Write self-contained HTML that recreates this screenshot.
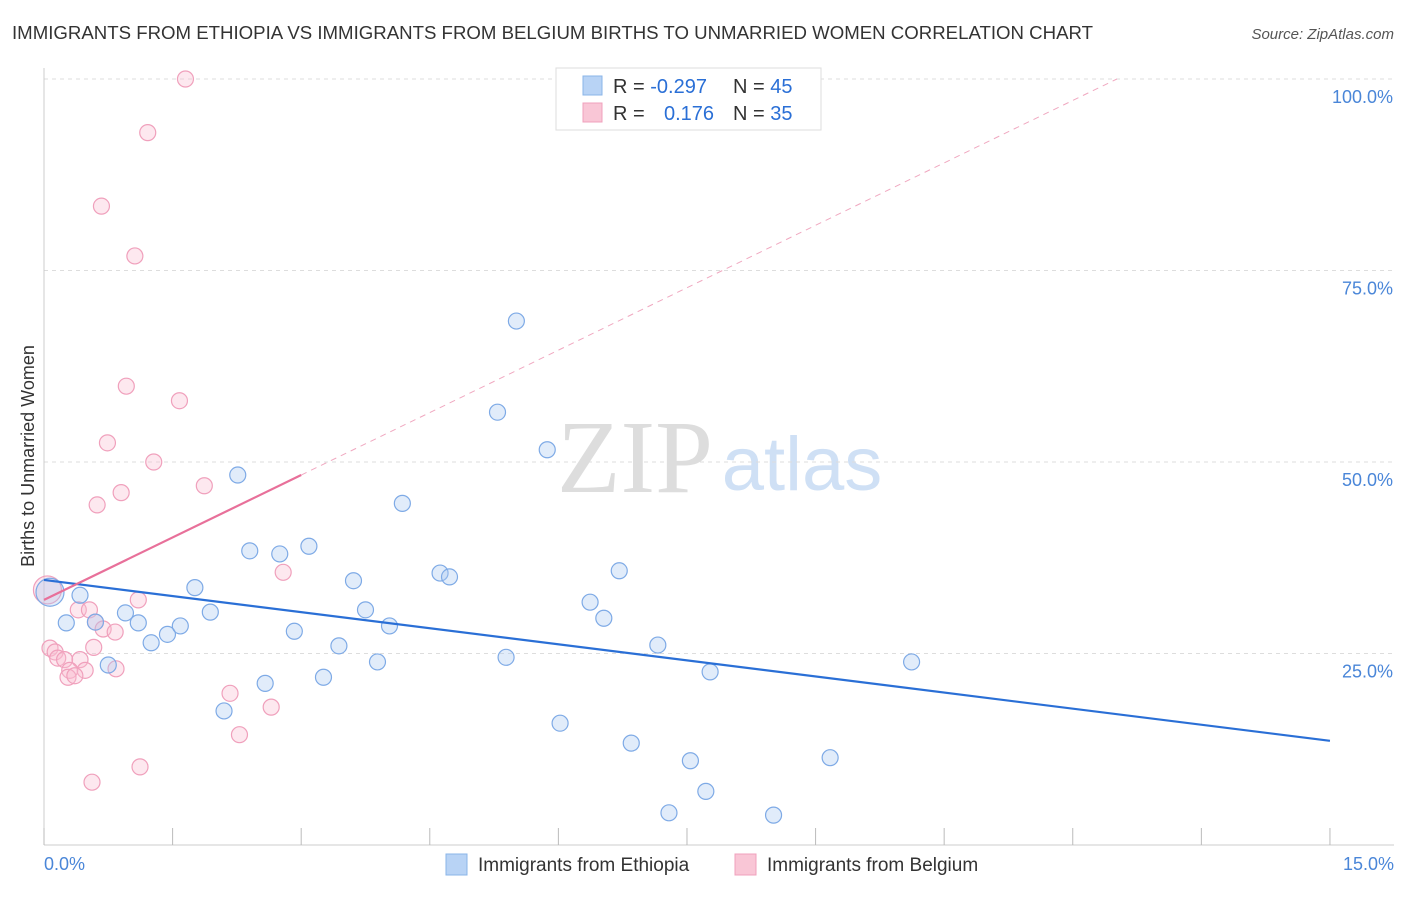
<!DOCTYPE html>
<html><head><meta charset="utf-8"><style>
body{margin:0;background:#fff;font-family:"Liberation Sans",sans-serif}
</style></head><body>
<svg id="c" width="1406" height="892" xmlns="http://www.w3.org/2000/svg">
<text x="12" y="39" font-size="18" fill="#333" textLength="1081" lengthAdjust="spacingAndGlyphs">IMMIGRANTS FROM ETHIOPIA VS IMMIGRANTS FROM BELGIUM BIRTHS TO UNMARRIED WOMEN CORRELATION CHART</text>
<text x="1394" y="39" font-size="15" fill="#555" font-style="italic" text-anchor="end">Source: ZipAtlas.com</text>
<text x="635" y="492" font-size="104" fill="#ddd" font-family="Liberation Serif" text-anchor="middle">ZIP</text>
<text x="802" y="490" font-size="76" fill="#cfe0f5" text-anchor="middle">atlas</text>
<g id="grid"></g><g id="marks"></g>
<text transform="translate(34,456) rotate(-90)" font-size="18" fill="#333" text-anchor="middle">Births to Unmarried Women</text>
<text x="44" y="870" font-size="18" fill="#4a86d8">0.0%</text>
<text x="1394" y="870" font-size="18" fill="#4a86d8" text-anchor="end">15.0%</text>
<g>
<rect x="556" y="68" width="265" height="62" fill="#fff" stroke="#ddd"/>
<rect x="583" y="76" width="19" height="19" fill="#b8d3f5" stroke="#8ab4e8"/>
<rect x="583" y="103" width="19" height="19" fill="#f9c6d6" stroke="#f0a0bc"/>
<text x="613" y="93" font-size="20" fill="#333">R = <tspan fill="#2a6fd6">-0.297</tspan><tspan x="733">N = </tspan><tspan fill="#2a6fd6">45</tspan></text>
<text x="613" y="120" font-size="20" fill="#333">R = <tspan x="664" fill="#2a6fd6">0.176</tspan><tspan x="733">N = </tspan><tspan fill="#2a6fd6">35</tspan></text>
</g>
<g>
<rect x="446" y="854" width="21" height="21" fill="#b8d3f5" stroke="#8ab4e8"/>
<text x="478" y="871" font-size="19" fill="#333">Immigrants from Ethiopia</text>
<rect x="735" y="854" width="21" height="21" fill="#f9c6d6" stroke="#f0a0bc"/>
<text x="767" y="871" font-size="19" fill="#333">Immigrants from Belgium</text>
</g>
</svg>
<script>
const yTicks=[25,50,75,100];
const xTicks=[0,1.5,3,4.5,6,7.5,9,10.5,12,13.5,15];
const ethX=[0.07,0.26,0.42,0.60,0.75,0.95,1.10,1.25,1.44,1.59,1.76,1.94,2.10,2.26,2.40,2.58,2.75,2.92,3.09,3.26,3.44,3.61,3.75,3.89,4.03,4.18,4.62,4.73,5.29,5.39,5.51,5.87,6.02,6.37,6.53,6.71,6.85,7.16,7.29,7.54,7.72,7.77,8.51,9.17,10.12];
const ethY=[33.0,29.0,32.6,29.1,23.5,30.3,29.0,26.4,27.5,28.6,33.6,30.4,17.5,48.3,38.4,21.1,38.0,27.9,39.0,21.9,26.0,34.5,30.7,23.9,28.6,44.6,35.5,35.0,56.5,24.5,68.4,51.6,15.9,31.7,29.6,35.8,13.3,26.1,4.2,11.0,7.0,22.6,3.9,11.4,23.9];
const belX=[1.65,1.21,0.67,1.06,0.96,1.58,0.74,1.28,1.87,0.90,0.62,2.79,1.10,0.40,0.53,0.60,0.69,0.83,0.58,0.07,0.13,0.16,0.24,0.42,0.48,0.30,0.28,0.36,0.84,2.17,2.65,2.28,1.12,0.56,0.04];
const belY=[100,93.0,83.4,76.9,59.9,58.0,52.5,50.0,46.9,46.0,44.4,35.6,32.0,30.7,30.7,29.1,28.2,27.8,25.8,25.7,25.2,24.4,24.2,24.2,22.8,22.8,21.9,22.1,23.0,19.8,18.0,14.4,10.2,8.2,33.3];
const ethTrend=[34.6,13.6];
const belTrend=[32.0,48.3];
const X=v=>44+v*85.73, Y=v=>845-v*7.66;
const NS='http://www.w3.org/2000/svg';
function mk(t,a,p){const e=document.createElementNS(NS,t);for(const k in a)e.setAttribute(k,a[k]);p.appendChild(e);return e;}
const g=document.getElementById('grid'),m=document.getElementById('marks');
yTicks.forEach(t=>{const l=mk('line',{x1:44,x2:1394,y1:Y(t),y2:Y(t),stroke:'#ddd','stroke-dasharray':'4,4'},g);


const tx=mk('text',{x:1393,y:Y(t)+24,'font-size':18,fill:'#4a86d8','text-anchor':'end'},g);tx.textContent=t.toFixed(1)+'%';

});
mk('line',{x1:44,x2:44,y1:68,y2:845,stroke:'#ccc'},g);
mk('line',{x1:44,x2:1394,y1:845,y2:845,stroke:'#ccc'},g);
xTicks.forEach(t=>{const l=mk('line',{x1:X(t),x2:X(t),y1:828,y2:845,stroke:'#bbb'},g);

});
function pts(xs,ys,fill,stroke,name){xs.forEach((x,i)=>{const big=(i===0&&name==='ethiopia-point')||(i===xs.length-1&&name==='belgium-point');
const c=mk('circle',{cx:X(x),cy:Y(ys[i]),r:big?14:8,fill:fill,stroke:stroke,'stroke-width':1.2},m);

});}
pts(belX,belY,'rgba(249,190,210,0.35)','#f0a0bc','belgium-point');
pts(ethX,ethY,'rgba(170,200,240,0.35)','#7eaae6','ethiopia-point');
const bs=(belTrend[1]-belTrend[0])/3, xe=(100-belTrend[0])/bs;
const d=mk('line',{x1:X(3),y1:Y(belTrend[1]),x2:X(xe),y2:Y(100),stroke:'#f0a8c0','stroke-dasharray':'6,5'},m);


const l1=mk('line',{x1:X(0),y1:Y(ethTrend[0]),x2:X(15),y2:Y(ethTrend[1]),stroke:'#2a6fd6','stroke-width':2.2},m);


const l2=mk('line',{x1:X(0),y1:Y(belTrend[0]),x2:X(3),y2:Y(belTrend[1]),stroke:'#e8709a','stroke-width':2.2},m);


</script>
</body></html>
